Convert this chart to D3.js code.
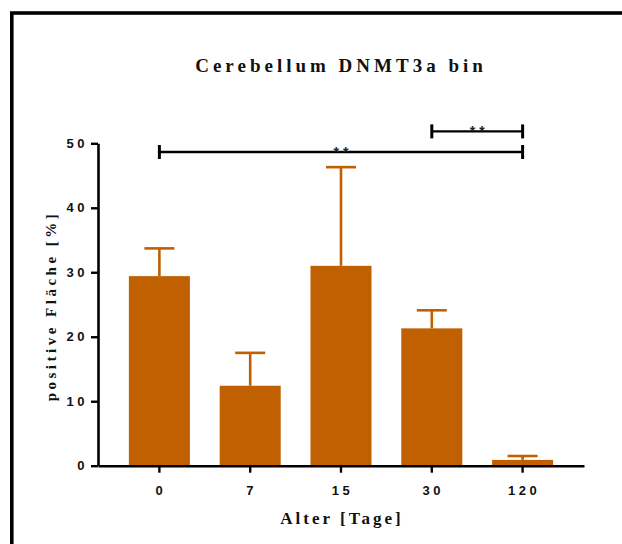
<!DOCTYPE html>
<html>
<head>
<meta charset="utf-8">
<script src="https://cdn.jsdelivr.net/npm/d3@7"></script>
<style>
  body { margin: 0; background: #fff; }
  svg { display: block; }
</style>
</head>
<body>
<div id="chart"></div>
<script>
// data
const ages = ["0", "7", "15", "30", "120"];
const means = [29.4, 12.4, 31.0, 21.3, 0.9];
const upperErr = [33.7, 17.5, 46.3, 24.1, 1.5];
const yTicks = [0, 10, 20, 30, 40, 50];
const sigPairs = [["0", "120"], ["30", "120"]];
const sigLevels = [48.65, 51.85];
const sigLabels = ["* *", "* *"];

const width = 622, height = 544;
const barColor = "#c06000";

const svg = d3.select("#chart").append("svg")
  .attr("width", width)
  .attr("height", height);

// frame (only top + left visible in the original)
svg.append("rect")
  .attr("x", 11.8).attr("y", 13)
  .attr("width", 800).attr("height", 800)
  .attr("fill", "none")
  .attr("stroke", "#000")
  .attr("stroke-width", 3.6);

const x = d3.scaleBand()
  .domain(ages)
  .range([98, 584])
  .paddingInner(0.328)
  .paddingOuter(0.34);

const y = d3.scaleLinear()
  .domain([0, 50])
  .range([465.7, 143.3]);

const cx = d => x(d) + x.bandwidth() / 2;

// bars
svg.append("g")
  .selectAll("rect")
  .data(ages)
  .enter().append("rect")
  .attr("x", d => x(d))
  .attr("width", x.bandwidth())
  .attr("y", (d, i) => y(means[i]))
  .attr("height", (d, i) => y(0) - y(means[i]))
  .attr("fill", barColor);

// upper error bars
const eb = svg.append("g")
  .attr("stroke", barColor)
  .attr("stroke-width", 2.6);
eb.selectAll("line.v")
  .data(ages)
  .enter().append("line")
  .attr("class", "v")
  .attr("x1", d => cx(d)).attr("x2", d => cx(d))
  .attr("y1", (d, i) => y(means[i]))
  .attr("y2", (d, i) => y(upperErr[i]));
eb.selectAll("line.c")
  .data(ages)
  .enter().append("line")
  .attr("class", "c")
  .attr("x1", d => cx(d) - 15).attr("x2", d => cx(d) + 15)
  .attr("y1", (d, i) => y(upperErr[i]))
  .attr("y2", (d, i) => y(upperErr[i]));

const sans = "'Liberation Sans', Arial, sans-serif";

// y axis
const yAxis = svg.append("g")
  .attr("transform", "translate(98,0)")
  .call(d3.axisLeft(y).tickValues(yTicks).tickSize(7).tickSizeOuter(0));
yAxis.select(".domain").attr("stroke-width", 2.6);
yAxis.selectAll(".tick line").attr("stroke-width", 2.4);
yAxis.selectAll(".tick text")
  .attr("x", -10)
  .attr("font-family", sans)
  .attr("font-weight", "bold")
  .attr("font-size", 13)
  .attr("letter-spacing", 3.5)
  .attr("fill", "#111");

// x axis
const xAxis = svg.append("g")
  .attr("transform", "translate(0,465.7)")
  .call(d3.axisBottom(x).tickSize(7).tickSizeOuter(0));
xAxis.select(".domain").attr("stroke-width", 2.6);
xAxis.selectAll(".tick text")
  .attr("y", 20)
  .attr("dx", 1.5)
  .attr("font-family", sans)
  .attr("font-weight", "bold")
  .attr("font-size", 13)
  .attr("letter-spacing", 3.5)
  .attr("fill", "#111");
xAxis.selectAll(".tick line").attr("stroke-width", 2.4);

// significance brackets
sigPairs.forEach((p, i) => {
  const x1 = cx(p[0]), x2 = cx(p[1]), yy = y(sigLevels[i]);
  const g = svg.append("g").attr("stroke", "#000");
  g.append("line").attr("x1", x1).attr("x2", x2).attr("y1", yy).attr("y2", yy).attr("stroke-width", 2.4);
  g.append("line").attr("x1", x1).attr("x2", x1).attr("y1", yy - 7).attr("y2", yy + 7).attr("stroke-width", 3);
  g.append("line").attr("x1", x2).attr("x2", x2).attr("y1", yy - 7).attr("y2", yy + 7).attr("stroke-width", 3);
  svg.append("text")
    .attr("x", (x1 + x2) / 2)
    .attr("y", yy + 5)
    .attr("text-anchor", "middle")
    .attr("font-family", sans)
    .attr("font-weight", "bold")
    .attr("font-size", 14)
    .attr("fill", "#222")
    .text(sigLabels[i]);
});

// title and axis titles
const serif = "'Liberation Serif', 'Times New Roman', serif";
svg.append("text")
  .attr("x", 341).attr("y", 72)
  .attr("text-anchor", "middle")
  .attr("font-family", serif)
  .attr("font-weight", "bold")
  .attr("font-size", 19)
  .attr("letter-spacing", 4)
  .attr("fill", "#111")
  .text("Cerebellum DNMT3a bin");

svg.append("text")
  .attr("x", 342).attr("y", 524)
  .attr("text-anchor", "middle")
  .attr("font-family", serif)
  .attr("font-weight", "bold")
  .attr("font-size", 17)
  .attr("letter-spacing", 3)
  .attr("fill", "#111")
  .text("Alter [Tage]");

svg.append("text")
  .attr("transform", "translate(56,306) rotate(-90)")
  .attr("text-anchor", "middle")
  .attr("font-family", serif)
  .attr("font-weight", "bold")
  .attr("font-size", 15)
  .attr("letter-spacing", 3.5)
  .attr("fill", "#111")
  .text("positive Fläche [%]");
</script>
</body>
</html>
